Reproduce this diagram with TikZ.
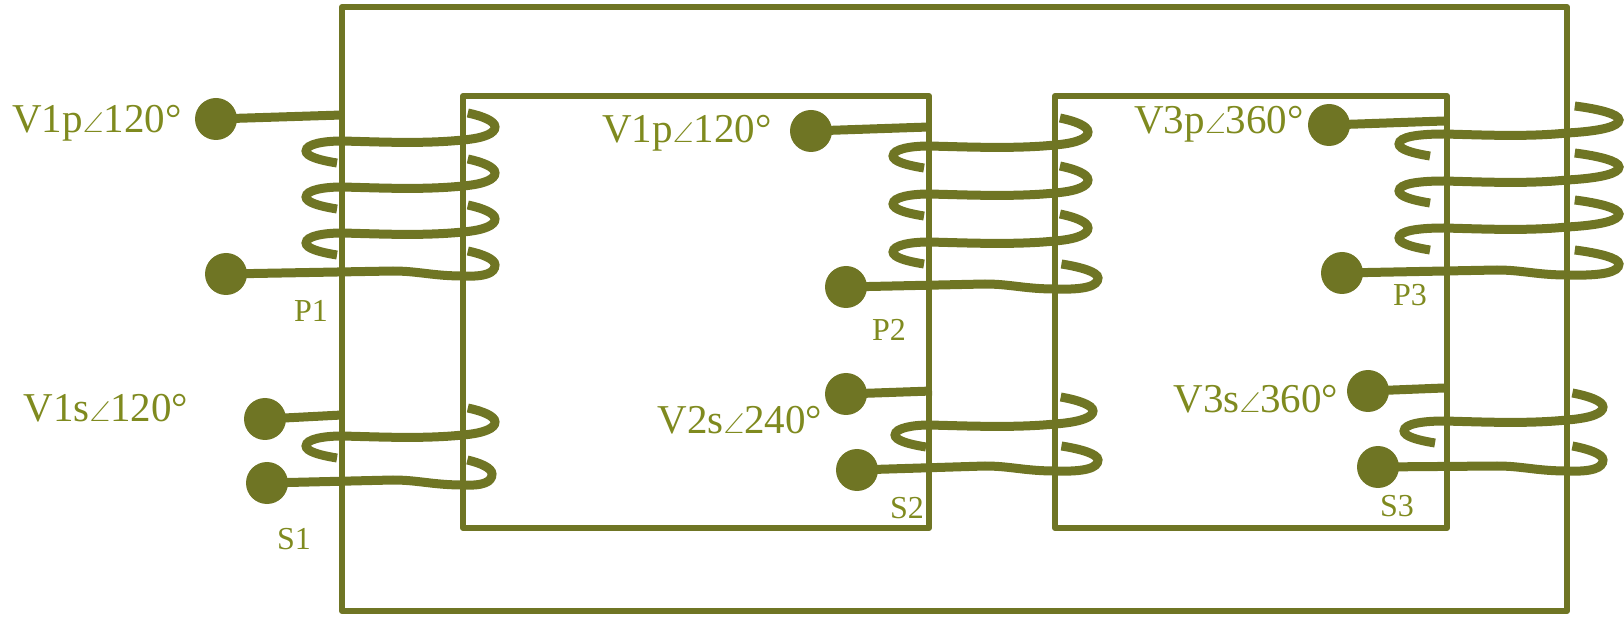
\documentclass[tikz,border=0pt]{standalone}
\usepackage{amsmath}
\usepackage{amssymb}
\usepackage{fontspec}
\setmainfont{Liberation Serif}
\definecolor{coreolive}{HTML}{6F7524}
\definecolor{textolive}{HTML}{7F8A1F}
\tikzset{
    core/.style={draw=coreolive, line width=3pt, line join=round},
    winding/.style={draw=coreolive, line width=4.5pt},
    terminal/.style={circle, fill=coreolive, draw=none, minimum size=21pt, inner sep=0pt},
    voltage/.style={text=textolive, font=\fontsize{20.5}{22}\selectfont, inner sep=0pt},
    tag/.style={text=textolive, font=\fontsize{16}{18}\selectfont, inner sep=0pt}
}
% one turn: y, left limb, right limb, reach to the left, reach to the right
\newcommand{\coilturn}[5]{
    \draw[winding] ({#2-#4+31},{#1+22}) .. controls ({#2-#4+12},{#1+19}) and ({#2-#4},{#1+15}) .. ({#2-#4},{#1+10})
        .. controls ({#2-#4},{#1+3}) and ({#2-#4+18},{#1}) .. ({#2},{#1})
        .. controls ({#2+40},{#1+1}) and ({#3-40},{#1+3}) .. ({#3},{#1-1})
        .. controls ({#3+#5*0.7},{#1-3}) and ({#3+#5},{#1-8}) .. ({#3+#5},{#1-14})
        .. controls ({#3+#5},{#1-20}) and ({#3+#5*0.6},{#1-25}) .. ({#3+#5*0.15},{#1-28});
}
% last turn, coming from a terminal: node, y, right limb, reach to the right
\newcommand{\leadturn}[4]{
    \draw[winding] (#1.center) -- ({#3-70},{#2-1})
        .. controls ({#3-45},{#2-1}) and ({#3-30},{#2+4}) .. ({#3},{#2+4})
        .. controls ({#3+#4*0.7},{#2+5}) and ({#3+#4},{#2+1}) .. ({#3+#4},{#2-7})
        .. controls ({#3+#4},{#2-13}) and ({#3+#4*0.6},{#2-18}) .. ({#3+#4*0.15},{#2-21});
}
\begin{document}
\begin{tikzpicture}[x=0.5pt, y=-0.5pt]
    \useasboundingbox (0,0) rectangle (1624,620);
    % Add the core
    \draw[core] (342,7) rectangle (1567,611);
    \draw[core] (463,96) rectangle (929,528);
    \draw[core] (1055,96) rectangle (1447,528);
    % Add the terminals
    \node[terminal] (P1a) at (216,119) {};
    \node[terminal] (P1b) at (226,274) {};
    \node[terminal] (S1a) at (265,419) {};
    \node[terminal] (S1b) at (267,483) {};
    \node[terminal] (P2a) at (811,131) {};
    \node[terminal] (P2b) at (846,287) {};
    \node[terminal] (S2a) at (846,394) {};
    \node[terminal] (S2b) at (857,470) {};
    \node[terminal] (P3a) at (1329,125) {};
    \node[terminal] (P3b) at (1342,273) {};
    \node[terminal] (S3a) at (1368,391) {};
    \node[terminal] (S3b) at (1378,467) {};
    % Free ends on the limbs
    \coordinate (P1t) at (342,115);
    \coordinate (S1t) at (342,415);
    \coordinate (P2t) at (929,127);
    \coordinate (S2t) at (932,391);
    \coordinate (P3t) at (1444,121);
    \coordinate (S3t) at (1444,388);
    \draw[winding] (P1a.center) -- (P1t);
    \draw[winding] (S1a.center) -- (S1t);
    \draw[winding] (P2a.center) -- (P2t);
    \draw[winding] (S2a.center) -- (S2t);
    \draw[winding] (P3a.center) -- (P3t);
    \draw[winding] (S3a.center) -- (S3t);
    % Add the windings
    \foreach \y in {141,187,233} {\coilturn{\y}{342}{463}{36}{32}}
    \leadturn{P1b}{272}{463}{32}
    \coilturn{436}{342}{463}{36}{32}
    \leadturn{S1b}{481}{463}{29}
    \foreach \y in {146,194,242} {\coilturn{\y}{929}{1055}{36}{33}}
    \leadturn{P2b}{285}{1055}{43}
    \coilturn{425}{929}{1055}{34}{38}
    \leadturn{S2b}{467}{1055}{43}
    \foreach \y in {134,181,228} {\coilturn{\y}{1444}{1567}{45}{52}}
    \leadturn{P3b}{271}{1567}{52}
    \coilturn{421}{1444}{1567}{40}{36}
    \leadturn{S3b}{467}{1567}{36}
    % Add the labels
    \node[voltage] (V1pL) at (97,123) {V1p$\scriptstyle\angle$120°};
    \node[voltage] (V1sL) at (106,408) {V1s$\scriptstyle\angle$120°};
    \node[voltage] (V2pL) at (687,133) {V1p$\scriptstyle\angle$120°};
    \node[voltage] (V2sL) at (740,420) {V2s$\scriptstyle\angle$240°};
    \node[voltage] (V3pL) at (1219,124) {V3p$\scriptstyle\angle$360°};
    \node[voltage] (V3sL) at (1256,399) {V3s$\scriptstyle\angle$360°};
    \node[tag] (P1L) at (311,311) {P1};
    \node[tag] (S1L) at (294,539) {S1};
    \node[tag] (P2L) at (889,330) {P2};
    \node[tag] (S2L) at (907,508) {S2};
    \node[tag] (P3L) at (1410,295) {P3};
    \node[tag] (S3L) at (1397,506) {S3};
\end{tikzpicture}
\end{document}
